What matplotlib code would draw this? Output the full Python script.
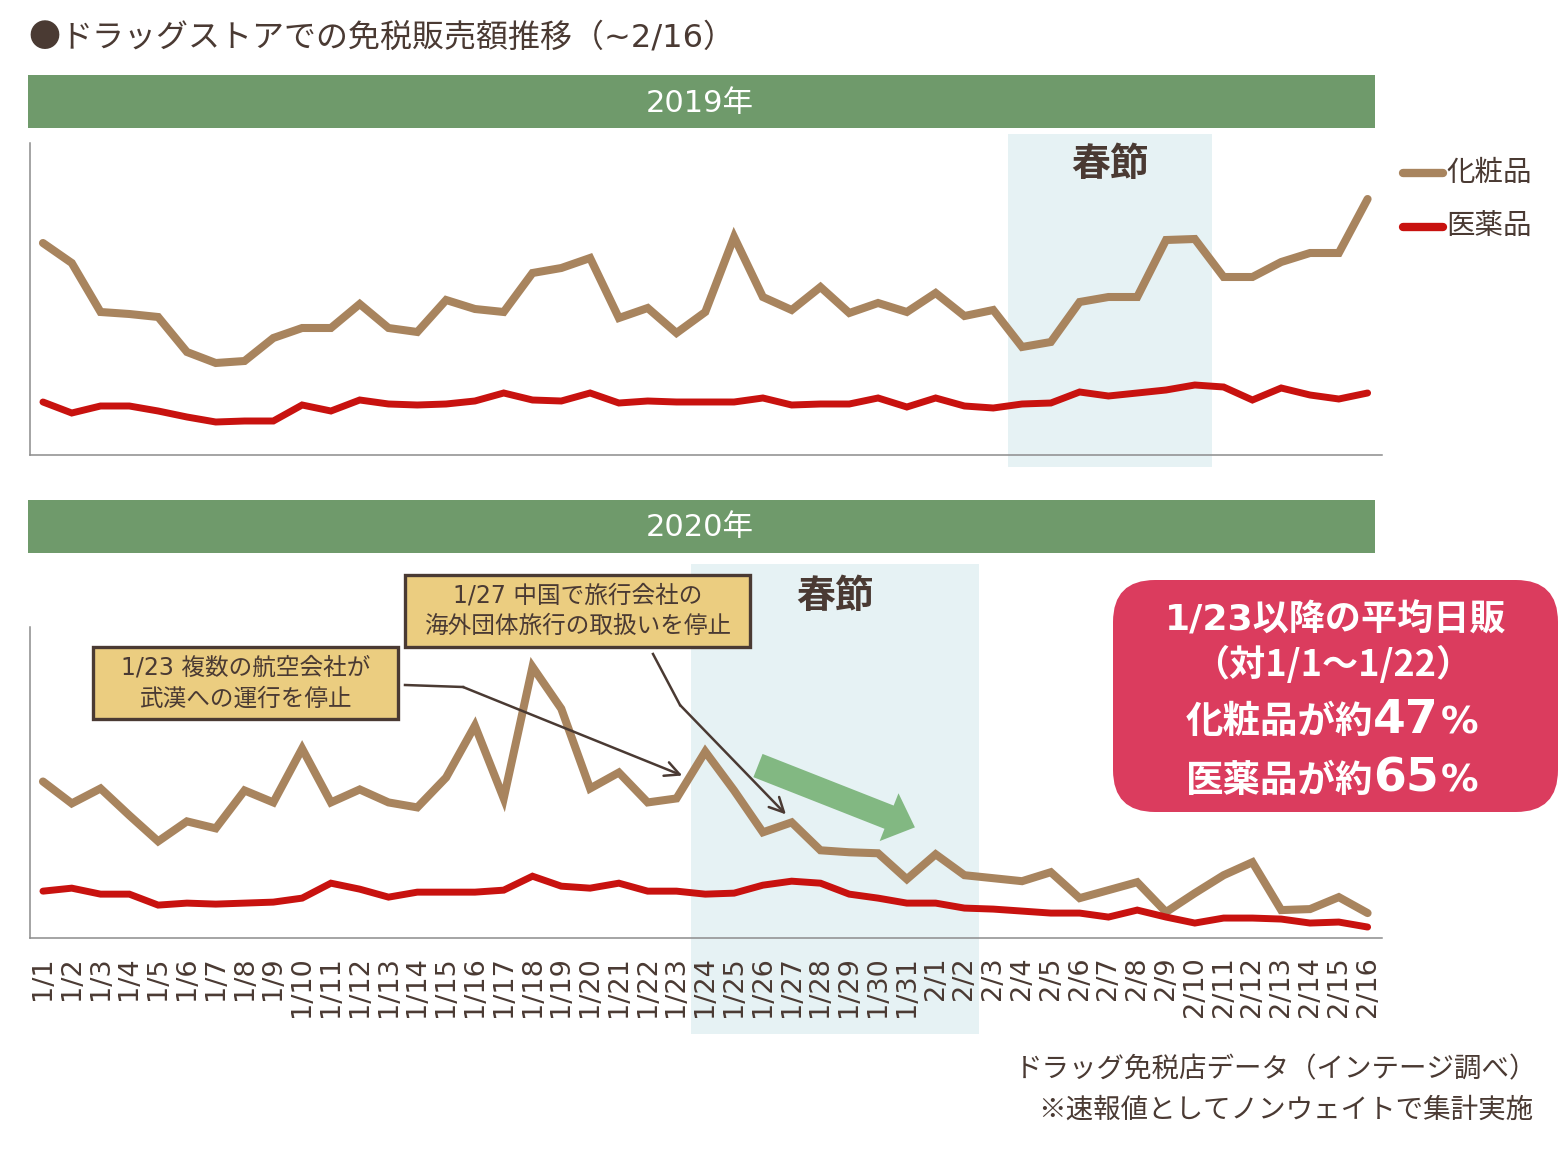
import matplotlib
matplotlib.use("Agg")
import matplotlib.pyplot as plt
import matplotlib.transforms as mtransforms
from matplotlib.patches import Rectangle, FancyBboxPatch, FancyArrowPatch, ArrowStyle
from matplotlib.lines import Line2D

# 数字はVerdana系（DejaVu）、かな・漢字はNoto
plt.rcParams['font.family'] = ['DejaVu Sans', 'Noto Sans CJK JP']
CJK = ['Noto Sans CJK JP', 'DejaVu Sans']

# 日付ラベル
dates = [f"1/{d}" for d in range(1, 32)] + [f"2/{d}" for d in range(1, 17)]
series_names = ["化粧品", "医薬品"]

# 2019年（相対値）
cosme_2019 = [212, 192, 143, 141, 138, 103, 92, 94, 117, 127, 127, 151, 127, 123, 155, 146,
              143, 182, 187, 197, 137, 147, 122, 143, 218, 158, 145, 168, 142, 152, 143,
              162, 139, 145, 108, 113, 153, 158, 158, 215, 216, 178, 178, 193, 202, 202, 256]
medic_2019 = [53, 42, 49, 49, 44, 38, 33, 34, 34, 50, 44, 55, 51, 50, 51, 54,
              62, 55, 54, 62, 52, 54, 53, 53, 53, 57, 50, 51, 51, 57, 48,
              57, 49, 47, 51, 52, 63, 59, 62, 65, 70, 68, 55, 67, 60, 56, 62]

# 2020年（相対値）
cosme_2020 = [157, 135, 150, 123, 97, 117, 110, 148, 136, 190, 136, 149, 136, 131, 161, 213,
              140, 272, 230, 150, 166, 136, 140, 187, 148, 106, 116, 88, 86, 85, 59,
              84, 63, 60, 57, 66, 40, 48, 56, 26, 45, 63, 76, 28, 29, 41, 25]
medic_2020 = [47, 50, 44, 44, 33, 35, 34, 35, 36, 40, 55, 49, 41, 46, 46, 46,
              48, 62, 52, 50, 55, 47, 47, 44, 45, 53, 57, 55, 44, 40, 35,
              35, 30, 29, 27, 25, 25, 21, 28, 21, 15, 20, 20, 19, 15, 16, 11]

# 春節の期間（インデックス）
spring_2019 = (33.5, 40.6)
spring_2020 = (22.5, 32.5)

BROWN = '#4a3a33'
C_COSME = '#a8845e'
C_MEDIC = '#c8120f'
GREEN_BAND = '#6f9a6b'
SHADE = '#e6f2f4'

W, H, DPI = 1559, 1149, 100
fig = plt.figure(figsize=(W / DPI, H / DPI), dpi=DPI)
# 左上原点のピクセル座標
T = mtransforms.Affine2D().scale(1 / DPI, -1 / DPI).translate(0, H / DPI) + fig.dpi_scale_trans

x = list(range(len(dates)))


def make_axes(top, bottom):
    ax = fig.add_axes([30 / W, 1 - bottom / H, 1352 / W, (bottom - top) / H])
    ax.set_facecolor('none')
    ax.set_xlim(-0.45, 46.5)
    ax.set_ylim(0, 312)
    for s in ['top', 'right']:
        ax.spines[s].set_visible(False)
    for s in ['left', 'bottom']:
        ax.spines[s].set_color('#8c8c8c')
        ax.spines[s].set_linewidth(1.1)
    ax.set_yticks([])
    return ax


def shade(ax, span, y0, y1, label, label_y):
    tr = mtransforms.blended_transform_factory(ax.transData, ax.transAxes)
    ax.add_patch(Rectangle((span[0], y0), span[1] - span[0], y1 - y0, transform=tr,
                           facecolor=SHADE, edgecolor='none', clip_on=False, zorder=0))
    ax.text((span[0] + span[1]) / 2, label_y, label, transform=tr, ha='center', va='center',
            fontsize=28, fontweight='bold', color=BROWN, family=CJK)


def band(y, text):
    fig.add_artist(Rectangle((28, y), 1347, 53, transform=T, facecolor=GREEN_BAND, edgecolor='none'))
    fig.text(700, y + 28, text, transform=T, ha='center', va='center', fontsize=22, color='white')


# タイトル
fig.text(28, 38, "●", transform=T, ha='left', va='center', fontsize=23, color=BROWN, family=CJK)
fig.text(60, 38, "ドラッグストアでの免税販売額推移（~2/16）", transform=T, ha='left', va='center',
         fontsize=23, color=BROWN)

band(75, "2019年")
band(500, "2020年")

# 2019年
ax1 = make_axes(143, 455)
ax1.tick_params(labelbottom=False, length=0)
shade(ax1, spring_2019, -0.038, 1.029, "春節", 0.93)
ax1.plot(x, cosme_2019, color=C_COSME, lw=5.8, solid_capstyle='round', solid_joinstyle='miter', zorder=3)
ax1.plot(x, medic_2019, color=C_MEDIC, lw=5.0, solid_capstyle='round', solid_joinstyle='miter', zorder=3)

# 2020年
ax2 = make_axes(627, 938)
shade(ax2, spring_2020, -0.309, 1.203, "春節", 1.098)
ax2.plot(x, cosme_2020, color=C_COSME, lw=5.8, solid_capstyle='round', solid_joinstyle='miter', zorder=3)
ax2.plot(x, medic_2020, color=C_MEDIC, lw=5.0, solid_capstyle='round', solid_joinstyle='miter', zorder=3)
ax2.set_xticks(x)
ax2.set_xticklabels(dates, rotation=90, fontsize=19.5, color=BROWN)
ax2.tick_params(axis='x', length=0, pad=13)

# 凡例
for name, col, ly in zip(series_names, [C_COSME, C_MEDIC], [173, 227]):
    fig.add_artist(Line2D([1403, 1443], [ly, ly], transform=T, color=col, lw=6, solid_capstyle='round'))
    fig.text(1446, ly, name, transform=T, ha='left', va='center', fontsize=20.5, color=BROWN, family=CJK)

# 注記ボックス
notes = [((93, 647, 305, 72), "1/23 複数の航空会社が\n武漢への運行を停止"),
         ((405, 575, 345, 72), "1/27 中国で旅行会社の\n海外団体旅行の取扱いを停止")]
for (bx, by, bw, bh), txt in notes:
    fig.add_artist(Rectangle((bx, by), bw, bh, transform=T, facecolor='#ebcd80',
                             edgecolor=BROWN, lw=2.4, zorder=5))
    fig.text(bx + bw / 2, by + bh / 2, txt, transform=T, ha='center', va='center',
             fontsize=17, color=BROWN, linespacing=1.35, zorder=6)

# 注記の矢印
fig.add_artist(Line2D([405, 463], [685, 687], transform=T, color=BROWN, lw=1.8))
ax2.annotate("", xy=(22.2, 163), xycoords='data', xytext=(463, 687), textcoords=T,
             arrowprops=dict(arrowstyle='->', color=BROWN, lw=1.8, shrinkA=0, shrinkB=0,
                             mutation_scale=26), annotation_clip=False)
fig.add_artist(Line2D([653, 680], [654, 705], transform=T, color=BROWN, lw=1.8))
ax2.annotate("", xy=(25.8, 124), xycoords='data', xytext=(680, 705), textcoords=T,
             arrowprops=dict(arrowstyle='->', color=BROWN, lw=1.8, shrinkA=0, shrinkB=0,
                             mutation_scale=26), annotation_clip=False)

# 緑の下降矢印
ax2.add_patch(FancyArrowPatch((24.83, 173), (30.28, 111),
                              arrowstyle=ArrowStyle.Simple(head_length=20, head_width=37, tail_width=18),
                              mutation_scale=1, color='#82b882', lw=0, shrinkA=0, shrinkB=0,
                              zorder=4, clip_on=False))

# 赤いまとめボックス
fig.add_artist(FancyBboxPatch((1113, 580), 445, 232, transform=T,
                              boxstyle='round,pad=0,rounding_size=42',
                              facecolor='#db3c5e', edgecolor='none'))
fig.text(1336, 630, "1/23以降の平均日販", transform=T, ha='center', va='baseline',
         fontsize=26, fontweight='bold', color='white')
fig.text(1333, 676, "（対1/1～1/22）", transform=T, ha='center', va='baseline',
         fontsize=26, fontweight='bold', color='white', family=CJK)
for ly, head, num in [(733, "化粧品が約", "47"), (792, "医薬品が約", "65")]:
    fig.text(1373, ly, head, transform=T, ha='right', va='baseline',
             fontsize=27, fontweight='bold', color='white', family=CJK)
    fig.text(1373, ly, num, transform=T, ha='left', va='baseline',
             fontsize=34, fontweight='bold', color='white')
    fig.text(1441, ly, "%", transform=T, ha='left', va='baseline',
             fontsize=27, fontweight='bold', color='white')

# 出典
fig.text(1015, 1070, "ドラッグ免税店データ（インテージ調べ）", transform=T, ha='left', va='center',
         fontsize=19.8, color=BROWN, family=CJK)
fig.text(1038, 1110, "※速報値としてノンウェイトで集計実施", transform=T, ha='left', va='center',
         fontsize=19.8, color=BROWN, family=CJK)

fig.savefig("out.png", dpi=DPI)
